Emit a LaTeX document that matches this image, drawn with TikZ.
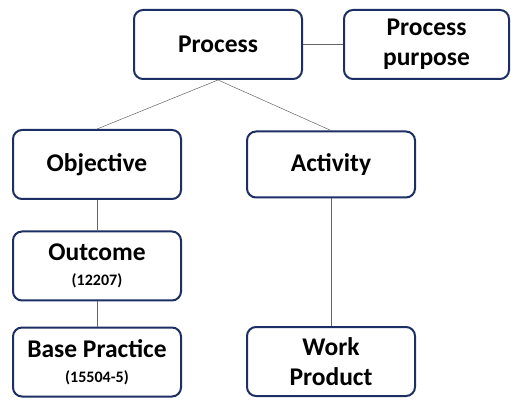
\documentclass[tikz,border=0pt]{standalone}
\usepackage{fontspec}
\setmainfont{Carlito}
\usetikzlibrary{positioning}
\definecolor{boxblue}{RGB}{28,46,100}
\definecolor{linegray}{RGB}{100,100,100}
\newcommand{\isonum}[1]{{\fontsize{16}{18}\selectfont #1}}

\begin{document}
\begin{tikzpicture}[x=1pt,y=1pt,
    box/.style={draw=boxblue,line width=2pt,rounded corners=9pt,fill=white,
        minimum width=168pt,minimum height=69pt,align=center,inner sep=2pt,
        font=\fontsize{25.5}{30}\selectfont\bfseries},
    link/.style={draw=linegray,line width=0.5pt}]
            \useasboundingbox (0,0) rectangle (511,399);

            \node[box] (x_1) at (218,354.5) {Process};
            \node[box,minimum width=165pt] (x_2) at (426.5,354.5) {Process\\purpose};

            \node[box] (x_3) at (97,234.5) {Objective};
            \node[box,minimum height=66pt] (x_4) at (331,234.5) {Activity};

            \node[box] (x_5) at (97,133) {Outcome\\[-5pt]\isonum{(12207)}};
            \node[box] (x_6) at (97,37) {Base Practice\\[-5pt]\isonum{(15504-5)}};
            \node[box] (x_7) at (331,37.5) {Work\\Product};

            \draw [link] (x_1) -- (x_2);
            \draw [link] (x_1.south) -- (x_3.north);
            \draw [link] (x_1.south) -- (x_4.north);
            \draw [link] (x_3) -- (x_5);
            \draw [link] (x_5) -- (x_6);
            \draw [link] (x_4) -- (x_7);
\end{tikzpicture}
\end{document}
